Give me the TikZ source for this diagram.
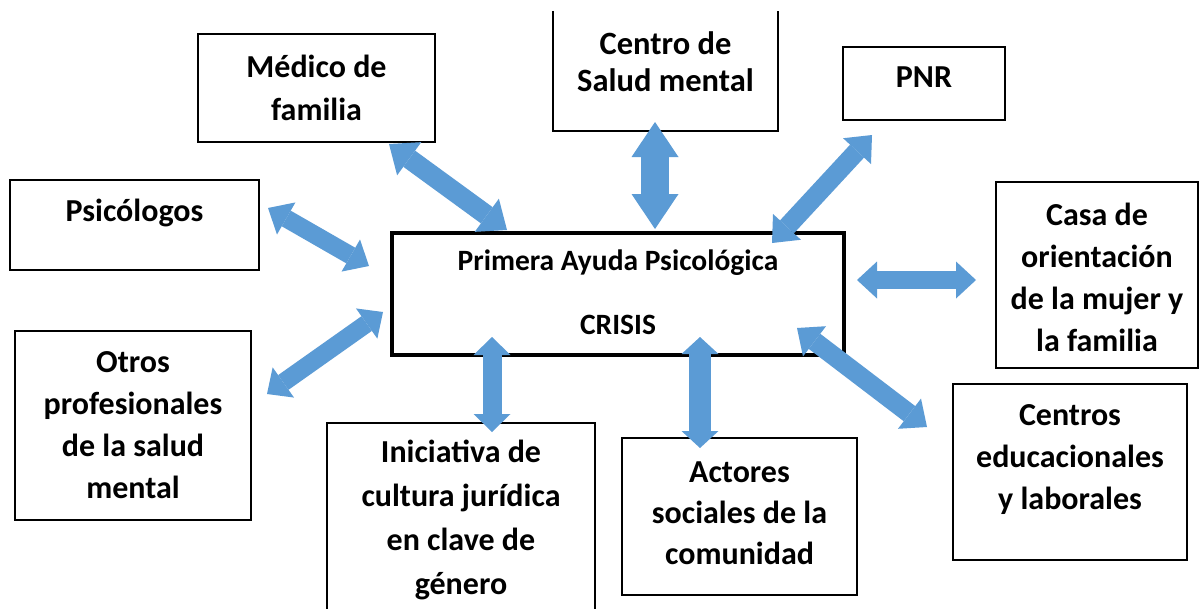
\documentclass[tikz,border=0pt]{standalone}
\usepackage{fontspec}
\setmainfont{Carlito}
\usetikzlibrary{arrows.meta}
\definecolor{ablue}{HTML}{5B9BD5}
\begin{document}
\begin{tikzpicture}[x=1pt,y=-1pt,
  box/.style={draw, line width=1.5pt, rectangle, inner sep=0pt},
  lbl/.style={font=\fontsize{32}{43}\selectfont\bfseries, align=center, inner sep=0pt},
  link/.style n args={3}{draw=ablue, line width=#1,
    arrows={Triangle[length=#3,width=#2,line width=0pt]-Triangle[length=#3,width=#2,line width=0pt]}}]
\clip (0,0) rectangle (1199,608);
\fill[white] (0,0) rectangle (1199,608);
% boxes
\node[box, minimum width=237pt, minimum height=108pt] (medico) at (316.5,88) {};
\node[inner sep=0pt, minimum width=225pt, minimum height=120pt] (centro) at (665.5,71) {};
\draw[line width=1.5pt] (centro.north west) -- (centro.south west) -- (centro.south east) -- (centro.north east);
\node[box, minimum width=162pt, minimum height=73pt] (pnr) at (924,83.5) {};
\node[box, minimum width=249pt, minimum height=90pt] (psic) at (134.5,225) {};
\node[box, line width=4pt, minimum width=452pt, minimum height=122pt] (crisis) at (618,294) {};
\node[box, minimum width=202pt, minimum height=186pt] (casa) at (1097,275) {};
\node[box, minimum width=236pt, minimum height=189pt] (otros) at (133,425.5) {};
\node[box, minimum width=268pt, minimum height=220pt] (inic) at (461,533) {};
\node[box, minimum width=235pt, minimum height=157pt] (actores) at (739.5,516.5) {};
\node[box, minimum width=234pt, minimum height=176pt] (centros) at (1070,472) {};
% labels
\node[lbl] (tmedico) at (316.5,87.5) {Médico de\\familia};
\node[lbl, font=\fontsize{32.5}{37}\selectfont\bfseries] (tcentro) at (665.5,62) {Centro de\\Salud mental};
\node[lbl] (tpnr) at (924,77) {PNR};
\node[lbl] (tpsic) at (134.5,213) {Psicólogos};
\node[lbl, font=\fontsize{29.5}{34}\selectfont\bfseries] (tcrisis1) at (618,263) {Primera Ayuda Psicológica};
\node[lbl, font=\fontsize{29.5}{34}\selectfont\bfseries] (tcrisis2) at (618,325) {CRISIS};
\node[lbl, font=\fontsize{32}{42}\selectfont\bfseries] (tcasa) at (1097,277) {Casa de\\orientación\\de la mujer y\\la familia};
\node[lbl, font=\fontsize{32}{42}\selectfont\bfseries] (totros) at (133,425) {Otros\\profesionales\\de la salud\\mental};
\node[lbl, font=\fontsize{32}{44}\selectfont\bfseries] (tinic) at (461,519.5) {Iniciativa de\\cultura jurídica\\en clave de\\género};
\node[lbl, font=\fontsize{32}{41}\selectfont\bfseries] (tactores) at (739.5,513) {Actores\\sociales de la\\comunidad};
\node[lbl, font=\fontsize{32}{42}\selectfont\bfseries] (tcentros) at (1070,460) {Centros\\educacionales\\y laborales};
% arrow end points
\coordinate (m1) at (389,144); \coordinate (m2) at (507,230);
\coordinate (p1) at (268,208); \coordinate (p2) at (369,266);
\coordinate (c1) at (655,122); \coordinate (c2) at (655,229);
\coordinate (n1) at (872,135); \coordinate (n2) at (772,243);
\coordinate (h1) at (857,280); \coordinate (h2) at (976,280);
\coordinate (o1) at (267,394); \coordinate (o2) at (383,312);
\coordinate (i1) at (492,337); \coordinate (i2) at (492,432);
\coordinate (a1) at (700,337); \coordinate (a2) at (700,448);
\coordinate (e1) at (797,328); \coordinate (e2) at (927,427);
% arrows
\draw[link={20pt}{41pt}{25pt}] (m1) -- (m2);
\draw[link={18pt}{37pt}{21pt}] (p1) -- (p2);
\draw[link={28pt}{47pt}{35pt}] (c1) -- (c2);
\draw[link={19pt}{38pt}{22pt}] (n1) -- (n2);
\draw[link={18pt}{37pt}{20pt}] (h1) -- (h2);
\draw[link={18pt}{37pt}{20pt}] (o1) -- (o2);
\draw[link={19pt}{37pt}{18pt}] (i1) -- (i2);
\draw[link={22pt}{37pt}{17pt}] (a1) -- (a2);
\draw[link={19pt}{38pt}{22pt}] (e1) -- (e2);
\end{tikzpicture}
\end{document}
